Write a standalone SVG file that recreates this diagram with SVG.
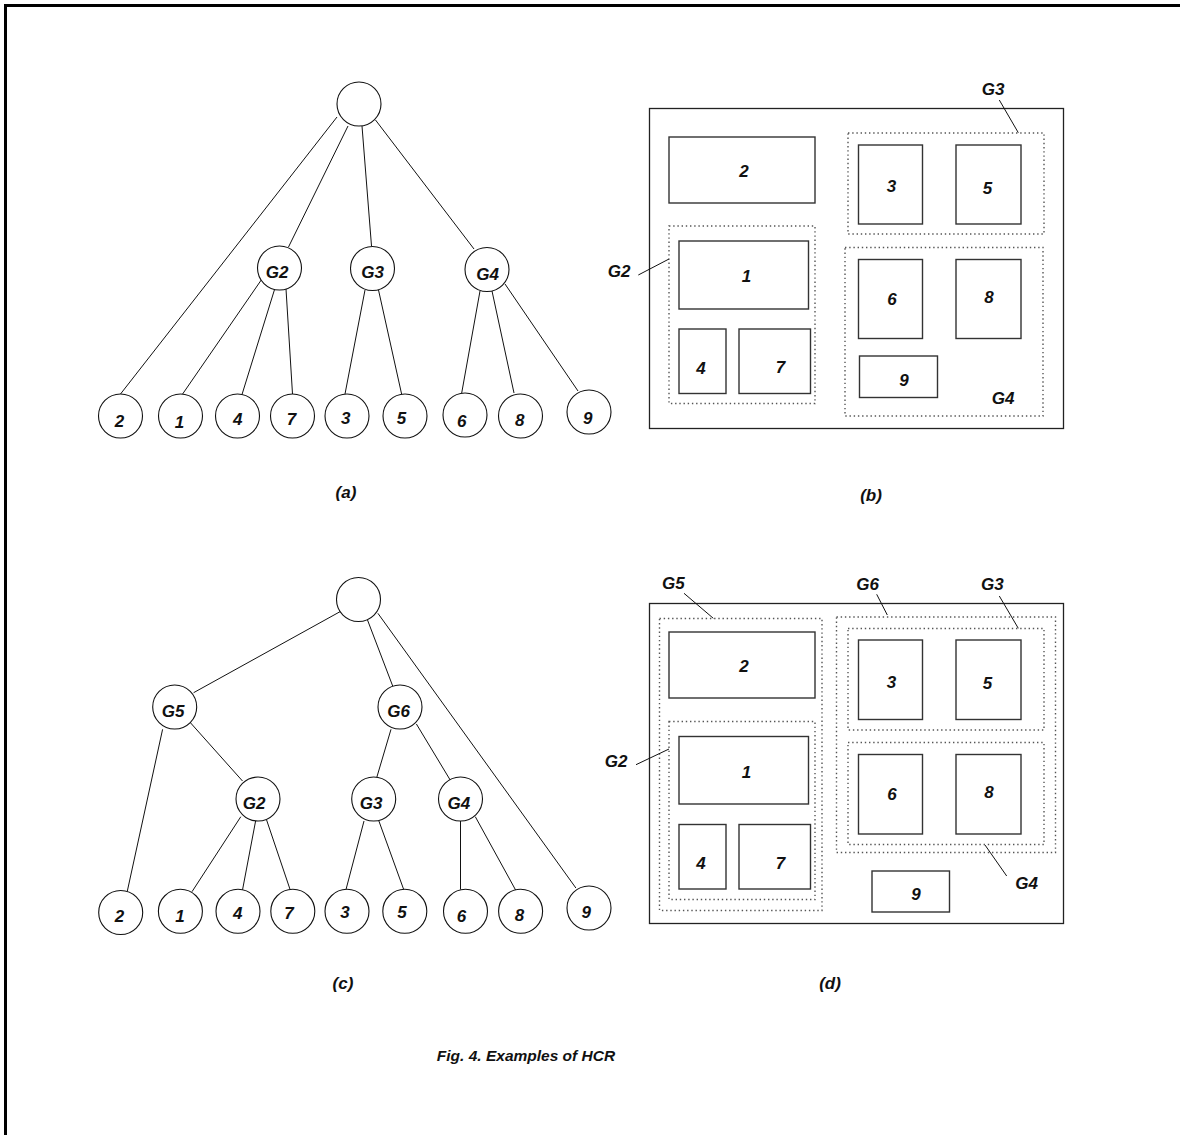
<svg xmlns="http://www.w3.org/2000/svg" width="1180" height="1135" viewBox="0 0 1180 1135">
<style>
text{font-family:"Liberation Sans",Arial,Helvetica,sans-serif;font-weight:bold;font-style:italic;font-size:17px;fill:#111;text-anchor:middle}
.n{fill:#fff;stroke:#111;stroke-width:1.1}
.e{stroke:#111;stroke-width:1;fill:none}
.box{fill:#fff;stroke:#333;stroke-width:1.4}
.outer{fill:none;stroke:#222;stroke-width:1.3}
.grp{fill:none;stroke:#555;stroke-width:1.4;stroke-dasharray:1.4 2.8}
.frame{stroke:#000;stroke-width:3;fill:none}
</style>
<rect width="1180" height="1135" fill="#fff"/>
<path class="frame" d="M5.5,1135 V5.5 H1180"/>

<!-- Tree (a) connectors -->
<g id="connectors-a">
<line class="e" x1="337" y1="117" x2="120.5" y2="394"/>
<line class="e" x1="348" y1="126" x2="288.5" y2="247"/>
<line class="e" x1="362" y1="126" x2="371.5" y2="246"/>
<line class="e" x1="375.5" y1="120" x2="474" y2="249"/>
<line class="e" x1="264" y1="276" x2="182.6" y2="394"/>
<line class="e" x1="274.7" y1="289" x2="242" y2="394.5"/>
<line class="e" x1="286" y1="289" x2="292.5" y2="394"/>
<line class="e" x1="365" y1="290" x2="345" y2="394"/>
<line class="e" x1="378.5" y1="290" x2="401.6" y2="394"/>
<line class="e" x1="480" y1="291" x2="461.7" y2="393"/>
<line class="e" x1="492" y1="291" x2="514" y2="393"/>
<line class="e" x1="505" y1="284" x2="578" y2="391"/>
</g>

<g id="a-root"><circle class="n" cx="359" cy="104" r="22"/></g>
<g id="a-G2"><circle class="n" cx="279.5" cy="268" r="22"/><text x="277" y="278">G2</text></g>
<g id="a-G3"><circle class="n" cx="372.5" cy="268.5" r="22"/><text x="372.5" y="278">G3</text></g>
<g id="a-G4"><circle class="n" cx="487" cy="269.5" r="22"/><text x="487.5" y="280">G4</text></g>
<g id="a-2"><circle class="n" cx="120.5" cy="416" r="22"/><text x="119.5" y="427">2</text></g>
<g id="a-1"><circle class="n" cx="180.5" cy="416" r="22"/><text x="179.5" y="428">1</text></g>
<g id="a-4"><circle class="n" cx="237.5" cy="416" r="22"/><text x="237.7" y="425">4</text></g>
<g id="a-7"><circle class="n" cx="292.5" cy="416" r="22"/><text x="291.5" y="425">7</text></g>
<g id="a-3"><circle class="n" cx="347" cy="416" r="22"/><text x="345.8" y="424">3</text></g>
<g id="a-5"><circle class="n" cx="405" cy="416" r="22"/><text x="401.6" y="423.5">5</text></g>
<g id="a-6"><circle class="n" cx="465" cy="415" r="22"/><text x="461.7" y="426.5">6</text></g>
<g id="a-8"><circle class="n" cx="520.5" cy="416" r="22"/><text x="519.8" y="426">8</text></g>
<g id="a-9"><circle class="n" cx="589" cy="412" r="22"/><text x="587.7" y="423.5">9</text></g>
<text id="label-a" x="346" y="498">(a)</text>

<!-- Diagram (b) -->
<g id="b">
<rect id="b-outer" class="outer" x="649.5" y="108.5" width="414" height="320"/>
<rect id="b-G3" class="grp" x="848" y="133" width="196" height="101"/>
<rect id="b-G2" class="grp" x="669" y="226" width="146" height="177.5"/>
<rect id="b-G4" class="grp" x="845" y="247.5" width="198" height="168.5"/>
<g id="b-box2"><rect class="box" x="669" y="137" width="146" height="66"/><text x="744" y="177">2</text></g>
<g id="b-box3"><rect class="box" x="858.5" y="145" width="64" height="79"/><text x="891.5" y="192">3</text></g>
<g id="b-box5"><rect class="box" x="956" y="145" width="65" height="79"/><text x="987.5" y="193.5">5</text></g>
<g id="b-box1"><rect class="box" x="679" y="241" width="129.5" height="68"/><text x="746.5" y="282">1</text></g>
<g id="b-box4"><rect class="box" x="679" y="329" width="47" height="64.5"/><text x="701" y="374">4</text></g>
<g id="b-box7"><rect class="box" x="739" y="329" width="71.5" height="64.5"/><text x="780.5" y="373">7</text></g>
<g id="b-box6"><rect class="box" x="858.5" y="259.5" width="64" height="79"/><text x="892" y="305">6</text></g>
<g id="b-box8"><rect class="box" x="956" y="259.5" width="65" height="79"/><text x="989" y="302.5">8</text></g>
<g id="b-box9"><rect class="box" x="859.5" y="356" width="78" height="41.5"/><text x="904" y="386">9</text></g>
<g id="b-lbl-G3"><text x="993" y="95">G3</text><line class="e" x1="999.3" y1="100" x2="1018.3" y2="132.7"/></g>
<g id="b-lbl-G2"><text x="619" y="276.5">G2</text><line class="e" x1="638.3" y1="275" x2="669" y2="259"/></g>
<text id="b-lbl-G4" x="1003" y="403.5">G4</text>
</g>
<text id="label-b" x="871" y="501">(b)</text>

<!-- Tree (c) connectors -->
<g id="connectors-c">
<line class="e" x1="340" y1="611.7" x2="193.6" y2="692.7"/>
<line class="e" x1="367.5" y1="620" x2="392.7" y2="686"/>
<line class="e" x1="377.9" y1="613.3" x2="575.9" y2="888"/>
<line class="e" x1="162.6" y1="729.3" x2="127.2" y2="891.7"/>
<line class="e" x1="189.5" y1="721.7" x2="242.5" y2="781"/>
<line class="e" x1="240.8" y1="816.7" x2="192" y2="891.7"/>
<line class="e" x1="255.6" y1="821" x2="242.5" y2="890"/>
<line class="e" x1="266.6" y1="820" x2="290" y2="889.3"/>
<line class="e" x1="391" y1="729.3" x2="376.8" y2="777.3"/>
<line class="e" x1="416.4" y1="724" x2="450.2" y2="780"/>
<line class="e" x1="364" y1="821" x2="346" y2="889.5"/>
<line class="e" x1="378.9" y1="821" x2="403.7" y2="889.5"/>
<line class="e" x1="460.5" y1="821" x2="460.5" y2="889.5"/>
<line class="e" x1="475.3" y1="816.7" x2="515.6" y2="890"/>
</g>

<g id="c-root"><circle class="n" cx="358.5" cy="599.5" r="22"/></g>
<g id="c-G5"><circle class="n" cx="174.7" cy="707" r="22"/><text x="173" y="716.5">G5</text></g>
<g id="c-G6"><circle class="n" cx="400" cy="707" r="22"/><text x="398.5" y="717">G6</text></g>
<g id="c-G2"><circle class="n" cx="258" cy="799" r="22"/><text x="254" y="809">G2</text></g>
<g id="c-G3"><circle class="n" cx="373.7" cy="799" r="22"/><text x="371" y="808.5">G3</text></g>
<g id="c-G4"><circle class="n" cx="460.5" cy="799" r="22"/><text x="458.8" y="808.5">G4</text></g>
<g id="c-2"><circle class="n" cx="120.7" cy="912.5" r="22"/><text x="119.6" y="921.7">2</text></g>
<g id="c-1"><circle class="n" cx="180.4" cy="911.3" r="22"/><text x="179.9" y="922.3">1</text></g>
<g id="c-4"><circle class="n" cx="238" cy="911.3" r="22"/><text x="237.7" y="919.3">4</text></g>
<g id="c-7"><circle class="n" cx="292.8" cy="911.3" r="22"/><text x="289" y="919.3">7</text></g>
<g id="c-3"><circle class="n" cx="347" cy="911.3" r="22"/><text x="345" y="918.3">3</text></g>
<g id="c-5"><circle class="n" cx="404.8" cy="911.3" r="22"/><text x="402" y="918.3">5</text></g>
<g id="c-6"><circle class="n" cx="465.5" cy="911.3" r="22"/><text x="461.5" y="921.7">6</text></g>
<g id="c-8"><circle class="n" cx="520.6" cy="911.3" r="22"/><text x="519.4" y="920.7">8</text></g>
<g id="c-9"><circle class="n" cx="589" cy="908" r="22"/><text x="586.2" y="918.3">9</text></g>
<text id="label-c" x="343" y="989">(c)</text>

<!-- Diagram (d) -->
<g id="d">
<rect id="d-outer" class="outer" x="649.5" y="603.5" width="414" height="320"/>
<rect id="d-G5" class="grp" x="659.5" y="618.5" width="162.5" height="292"/>
<rect id="d-G2" class="grp" x="669" y="721.5" width="146" height="178"/>
<rect id="d-G6" class="grp" x="836.5" y="617" width="219" height="235.5"/>
<rect id="d-G3" class="grp" x="848" y="628.5" width="196" height="101.5"/>
<rect id="d-G4" class="grp" x="848" y="742.5" width="196" height="102"/>
<g id="d-box2"><rect class="box" x="669" y="632" width="146" height="66"/><text x="744" y="672">2</text></g>
<g id="d-box3"><rect class="box" x="858.5" y="640" width="64" height="79.5"/><text x="891.5" y="687.5">3</text></g>
<g id="d-box5"><rect class="box" x="956" y="640" width="65" height="79.5"/><text x="987.5" y="689">5</text></g>
<g id="d-box1"><rect class="box" x="679" y="736.5" width="129.5" height="67.5"/><text x="746.5" y="777.5">1</text></g>
<g id="d-box4"><rect class="box" x="679" y="824.5" width="47" height="64.5"/><text x="701" y="869">4</text></g>
<g id="d-box7"><rect class="box" x="739" y="824.5" width="71.5" height="64.5"/><text x="780.5" y="868.5">7</text></g>
<g id="d-box6"><rect class="box" x="858.5" y="754.5" width="64" height="79.5"/><text x="892" y="800">6</text></g>
<g id="d-box8"><rect class="box" x="956" y="754.5" width="65" height="79.5"/><text x="989" y="797.5">8</text></g>
<g id="d-box9"><rect class="box" x="872" y="871" width="77.5" height="41"/><text x="916" y="900">9</text></g>
<g id="d-lbl-G5"><text x="673.3" y="588.5">G5</text><line class="e" x1="684" y1="593.3" x2="713.3" y2="618.3"/></g>
<g id="d-lbl-G6"><text x="867.7" y="590">G6</text><line class="e" x1="876.7" y1="594.3" x2="887.3" y2="615"/></g>
<g id="d-lbl-G3"><text x="992.3" y="590">G3</text><line class="e" x1="999.3" y1="596" x2="1018.3" y2="628.3"/></g>
<g id="d-lbl-G2"><text x="616" y="767">G2</text><line class="e" x1="636" y1="764.7" x2="669" y2="749"/></g>
<g id="d-lbl-G4"><text x="1026.7" y="889">G4</text><line class="e" x1="1006.7" y1="876" x2="985" y2="845"/></g>
</g>
<text id="label-d" x="830" y="989">(d)</text>

<text id="caption" x="526" y="1061" style="font-size:15.5px">Fig. 4. Examples of HCR</text>
</svg>
